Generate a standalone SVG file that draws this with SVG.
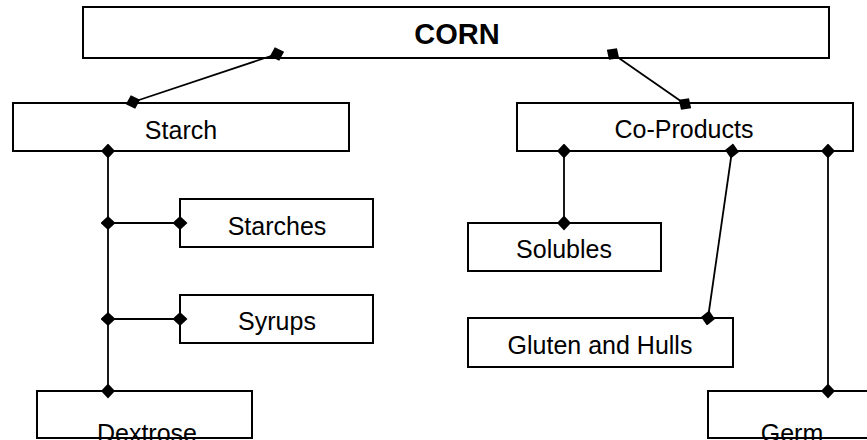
<svg xmlns="http://www.w3.org/2000/svg" width="867" height="440" viewBox="0 0 867 440">
<style>
.box{fill:none;stroke:#000;stroke-width:2}
.lbl{font-family:"Liberation Sans",Arial,sans-serif;font-size:25px;fill:#000;text-anchor:middle}
.title{font-family:"Liberation Sans",Arial,sans-serif;font-size:29px;font-weight:bold;fill:#000;text-anchor:middle}
.conn{fill:none;stroke:#000;stroke-width:1.8;marker-start:url(#dia);marker-end:url(#dia)}
</style>
<defs>
<marker id="dia" viewBox="-7.5 -7.5 15 15" refX="0" refY="0" markerWidth="15" markerHeight="15" markerUnits="userSpaceOnUse" orient="auto">
<path d="M-7.5,0 L0,-7 L7.5,0 L0,7 Z" fill="#000"/>
</marker>
</defs>
<rect x="0" y="0" width="867" height="440" fill="#fff"/>
<g id="corn"><text class="title" x="457" y="44">CORN</text><rect class="box" x="83" y="7" width="746" height="51"/></g>
<g id="starch"><text class="lbl" x="181" y="139">Starch</text><rect class="box" x="13" y="103" width="336" height="48"/></g>
<g id="coproducts"><text class="lbl" x="684" y="138">Co-Products</text><rect class="box" x="517" y="103" width="336" height="48"/></g>
<g id="starches"><text class="lbl" x="277" y="235">Starches</text><rect class="box" x="180" y="199" width="193" height="48"/></g>
<g id="syrups"><text class="lbl" x="277" y="330">Syrups</text><rect class="box" x="180" y="295" width="193" height="48"/></g>
<g id="dextrose"><text class="lbl" x="147" y="442">Dextrose</text><rect class="box" x="37" y="391" width="215" height="47"/></g>
<g id="solubles"><text class="lbl" x="564" y="258">Solubles</text><rect class="box" x="468" y="223" width="193" height="48"/></g>
<g id="gluten"><text class="lbl" x="600" y="354">Gluten and Hulls</text><rect class="box" x="468" y="318" width="265" height="49"/></g>
<g id="germ"><text class="lbl" x="792" y="442">Germ</text><rect class="box" x="708" y="391" width="170" height="47"/></g>
<g id="connectors">
<line class="conn" x1="277" y1="54" x2="133" y2="102"/>
<line class="conn" x1="613" y1="54" x2="685" y2="104"/>
<line class="conn" x1="108" y1="151" x2="108" y2="391"/>
<line class="conn" x1="108" y1="223" x2="180" y2="223"/>
<line class="conn" x1="108" y1="319" x2="180" y2="319"/>
<line class="conn" x1="564" y1="151" x2="564" y2="223"/>
<line class="conn" x1="732" y1="151" x2="708" y2="318"/>
<line class="conn" x1="828" y1="151" x2="828" y2="391"/>
</g>
</svg>
